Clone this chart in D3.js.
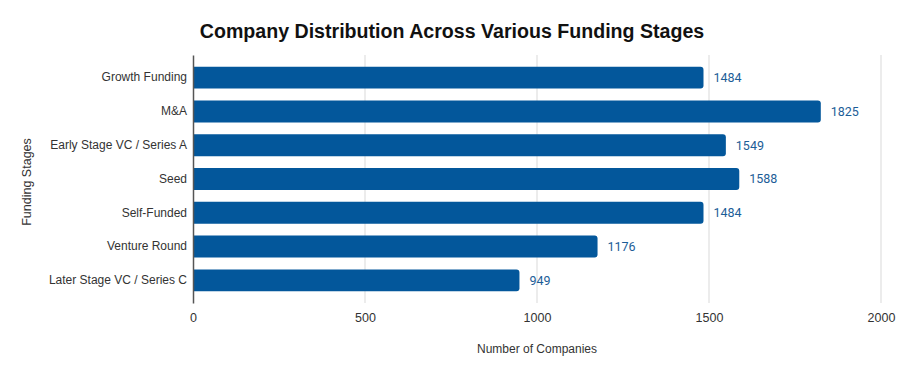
<!DOCTYPE html>
<html><head><meta charset="utf-8">
<script src="https://cdn.jsdelivr.net/npm/d3@7"></script>
<style>body{margin:0;background:#fff}svg{display:block}</style>
</head><body>
<svg id="chart" width="900" height="374"></svg>
<script>
const categories = ["Growth Funding","M&A","Early Stage VC / Series A","Seed","Self-Funded","Venture Round","Later Stage VC / Series C"];
const companies = [1484,1825,1549,1588,1484,1176,949];
const xTicks = [0,500,1000,1500,2000];

(function(){
const svg = d3.select("#chart");
const mLeft = 193, mRight = 881, mTop = 55, mBottom = 303;
const x = d3.scaleLinear().domain([0,2000]).range([mLeft,mRight]);
const y = d3.scaleBand().domain(categories).range([mTop,mBottom]).paddingInner(0.35).paddingOuter(0.345);

svg.append("text").attr("x",452).attr("y",38).attr("text-anchor","middle")
  .attr("font-family","Liberation Sans, Arial, sans-serif").attr("font-weight","bold").attr("font-size",19.6).attr("fill","#111")
  .text("Company Distribution Across Various Funding Stages");

// grid
svg.append("g").selectAll("line").data(xTicks.filter(d=>d>0)).join("line")
  .attr("x1",d=>x(d)).attr("x2",d=>x(d)).attr("y1",mTop).attr("y2",mBottom)
  .attr("stroke","#d9d9d9").attr("stroke-width",1);

// bars with rounded right end
svg.append("g").selectAll("path").data(categories).join("path")
  .attr("d",(c,i)=>{
    const x0=x(0), x1=x(companies[i]), y0=y(c), h=y.bandwidth(), r=3;
    return `M${x0},${y0}H${x1-r}Q${x1},${y0} ${x1},${y0+r}V${y0+h-r}Q${x1},${y0+h} ${x1-r},${y0+h}H${x0}Z`;
  }).attr("fill","#03579b");

// value labels
svg.append("g").selectAll("text").data(categories).join("text")
  .attr("x",(c,i)=>x(companies[i])+10).attr("y",c=>y(c)+y.bandwidth()/2).attr("dy","0.35em")
  .attr("font-family","Roboto, sans-serif").attr("font-size",12.5).attr("fill","#1c5d97")
  .text((c,i)=>companies[i]);

// y axis
const yAxis = svg.append("g").attr("transform",`translate(${mLeft},0)`)
  .call(d3.axisLeft(y).tickSize(0).tickPadding(6));
yAxis.select(".domain").attr("stroke","#555").attr("stroke-width",1.5);
yAxis.selectAll("text").attr("font-family","Liberation Sans, Arial, sans-serif").attr("font-size",12).attr("fill","#333");

// x axis
const xAxis = svg.append("g").attr("transform",`translate(0,${mBottom})`)
  .call(d3.axisBottom(x).tickValues(xTicks).tickFormat(d3.format("d")).tickSize(0).tickPadding(10));
xAxis.select(".domain").remove();
xAxis.selectAll("text").attr("font-family","Liberation Sans, Arial, sans-serif").attr("font-size",12.5).attr("fill","#333");

svg.append("text").attr("x",(mLeft+mRight)/2).attr("y",353).attr("text-anchor","middle")
  .attr("font-family","Liberation Sans, Arial, sans-serif").attr("font-size",12).attr("fill","#333")
  .text("Number of Companies");
svg.append("text").attr("transform",`translate(31,${(mTop+mBottom)/2+3}) rotate(-90)`).attr("text-anchor","middle")
  .attr("font-family","Liberation Sans, Arial, sans-serif").attr("font-size",12.5).attr("fill","#333")
  .text("Funding Stages");
})();
</script>
</body></html>
